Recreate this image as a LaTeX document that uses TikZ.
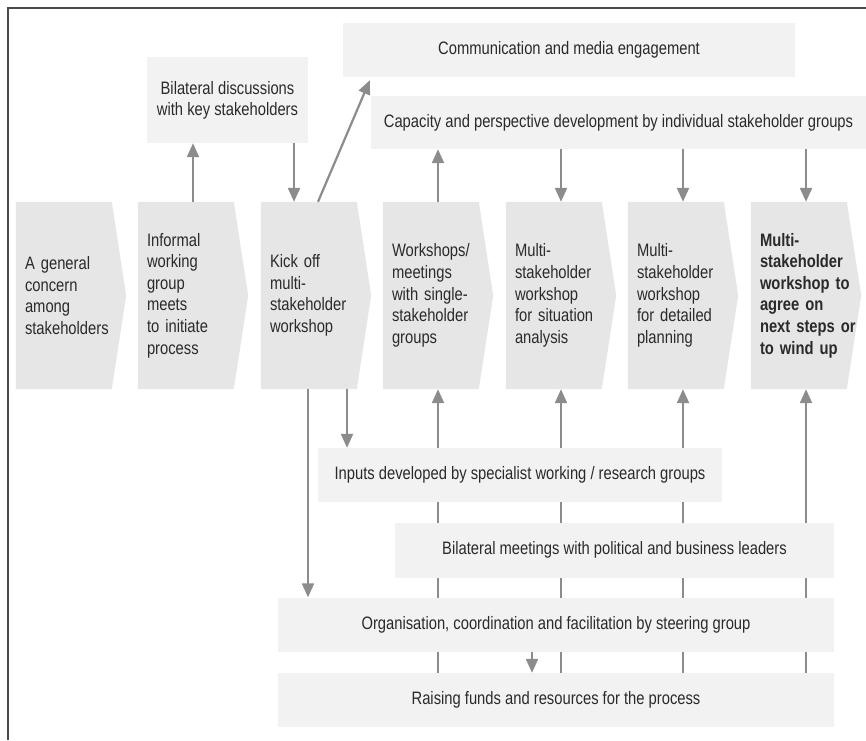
\documentclass[tikz,border=0pt]{standalone}
\usepackage{fontspec}
\setmainfont[FakeStretch=0.82]{Liberation Sans}
\usetikzlibrary{arrows.meta,backgrounds}
\definecolor{chevfill}{HTML}{E6E6E6}
\definecolor{boxfill}{HTML}{F2F2F2}
\definecolor{arrowcol}{HTML}{8C8C8C}
\definecolor{textcol}{HTML}{2A2A2A}
\definecolor{framecol}{HTML}{4A4A4A}
\begin{document}
\begin{tikzpicture}[x=1pt,y=-1pt,
  chev/.style={rectangle, minimum width=110pt, minimum height=187pt, text width=92pt,
    inner xsep=9pt, inner ysep=0pt, align=left, text=textcol, font=\fontsize{18}{21.6}\selectfont},
  box/.style={rectangle, fill=boxfill, inner sep=0pt, align=center, text=textcol,
    font=\fontsize{18}{21}\selectfont},
  arr/.style={arrowcol, line width=2.2pt, -{Triangle[width=12pt,length=14pt]}}]
\useasboundingbox (0,0) rectangle (866,740);
\draw[framecol, line width=2pt] (8,740) -- (8,8) -- (866,8);

% top boxes
\node[box, minimum width=161pt, minimum height=86pt] (bil) at (227.5,100) {Bilateral discussions\\with key stakeholders};
\node[box, minimum width=452pt, minimum height=54pt] (comm) at (569,50) {Communication and media engagement};
\node[box, minimum width=495pt, minimum height=53pt] (cap) at (618.5,122.5) {Capacity and perspective development by individual stakeholder groups};

% chevrons
\node[chev] (c1) at (71,295.5) {A general\\concern\\among\\stakeholders};
\node[chev] (c2) at (193,295.5) {Informal\\working\\group\\meets\\to initiate\\process};
\node[chev] (c3) at (316,295.5) {Kick off\\multi-\\stakeholder\\workshop};
\node[chev] (c4) at (438,295.5) {Workshops/\\meetings\\with single-\\stakeholder\\groups};
\node[chev] (c5) at (561,295.5) {Multi-\\stakeholder\\workshop\\for~situation\\analysis};
\node[chev] (c6) at (683,295.5) {Multi-\\stakeholder\\workshop\\for~detailed\\planning};
\node[chev, font=\fontsize{18}{21.6}\selectfont\bfseries] (c7) at (806,295.5) {Multi-\\stakeholder\\workshop~to\\agree~on\\next~steps~or\\to~wind~up};

% bottom boxes
\node[box, minimum width=404pt, minimum height=54pt] (inp) at (520,475) {Inputs developed by specialist working / research groups};
\node[box, minimum width=439pt, minimum height=55pt] (bm) at (614.5,550) {Bilateral meetings with political and business leaders};
\node[box, minimum width=556pt, minimum height=54pt] (org) at (556,624.5) {Organisation, coordination and facilitation by steering group};
\node[box, minimum width=556pt, minimum height=54pt] (raise) at (556,700) {Raising funds and resources for the process};

\coordinate (k1) at ([xshift=-22pt]c3.north);
\coordinate (k2) at ([xshift=2pt]c3.north);
\coordinate (k3) at ([xshift=27pt,yshift=-3pt]comm.south west);
\coordinate (k4) at ([xshift=-8pt]c3.south);
\coordinate (k5) at ([xshift=31pt]c3.south);
\coordinate (k6) at ([xshift=-24pt]org.south);

\begin{scope}[on background layer]
  \foreach \n in {c1,c2,c3,c4,c5,c6,c7}
    \fill[chevfill] (\n.north west) -- ([xshift=96pt]\n.north west) -- (\n.east)
      -- ([xshift=96pt]\n.south west) -- (\n.south west) -- cycle;
  \foreach \n in {c4,c5,c6,c7}
    \draw[arr] (raise.north -| \n.south) -- (\n.south);
  \draw[arr] (k4) -- (k4 |- org.north);
  \draw[arr] (k5) -- (k5 |- inp.north);
  \draw[arr] (k6) -- (k6 |- raise.north);
  \draw[arr] (c2.north) -- (c2.north |- bil.south);
  \draw[arr] (k1 |- bil.south) -- (k1);
  \draw[arr] (k2) -- (k3);
  \draw[arr] (c4.north) -- (c4.north |- cap.south);
  \foreach \n in {c5,c6,c7}
    \draw[arr] (\n.north |- cap.south) -- (\n.north);
\end{scope}
\end{tikzpicture}
\end{document}
